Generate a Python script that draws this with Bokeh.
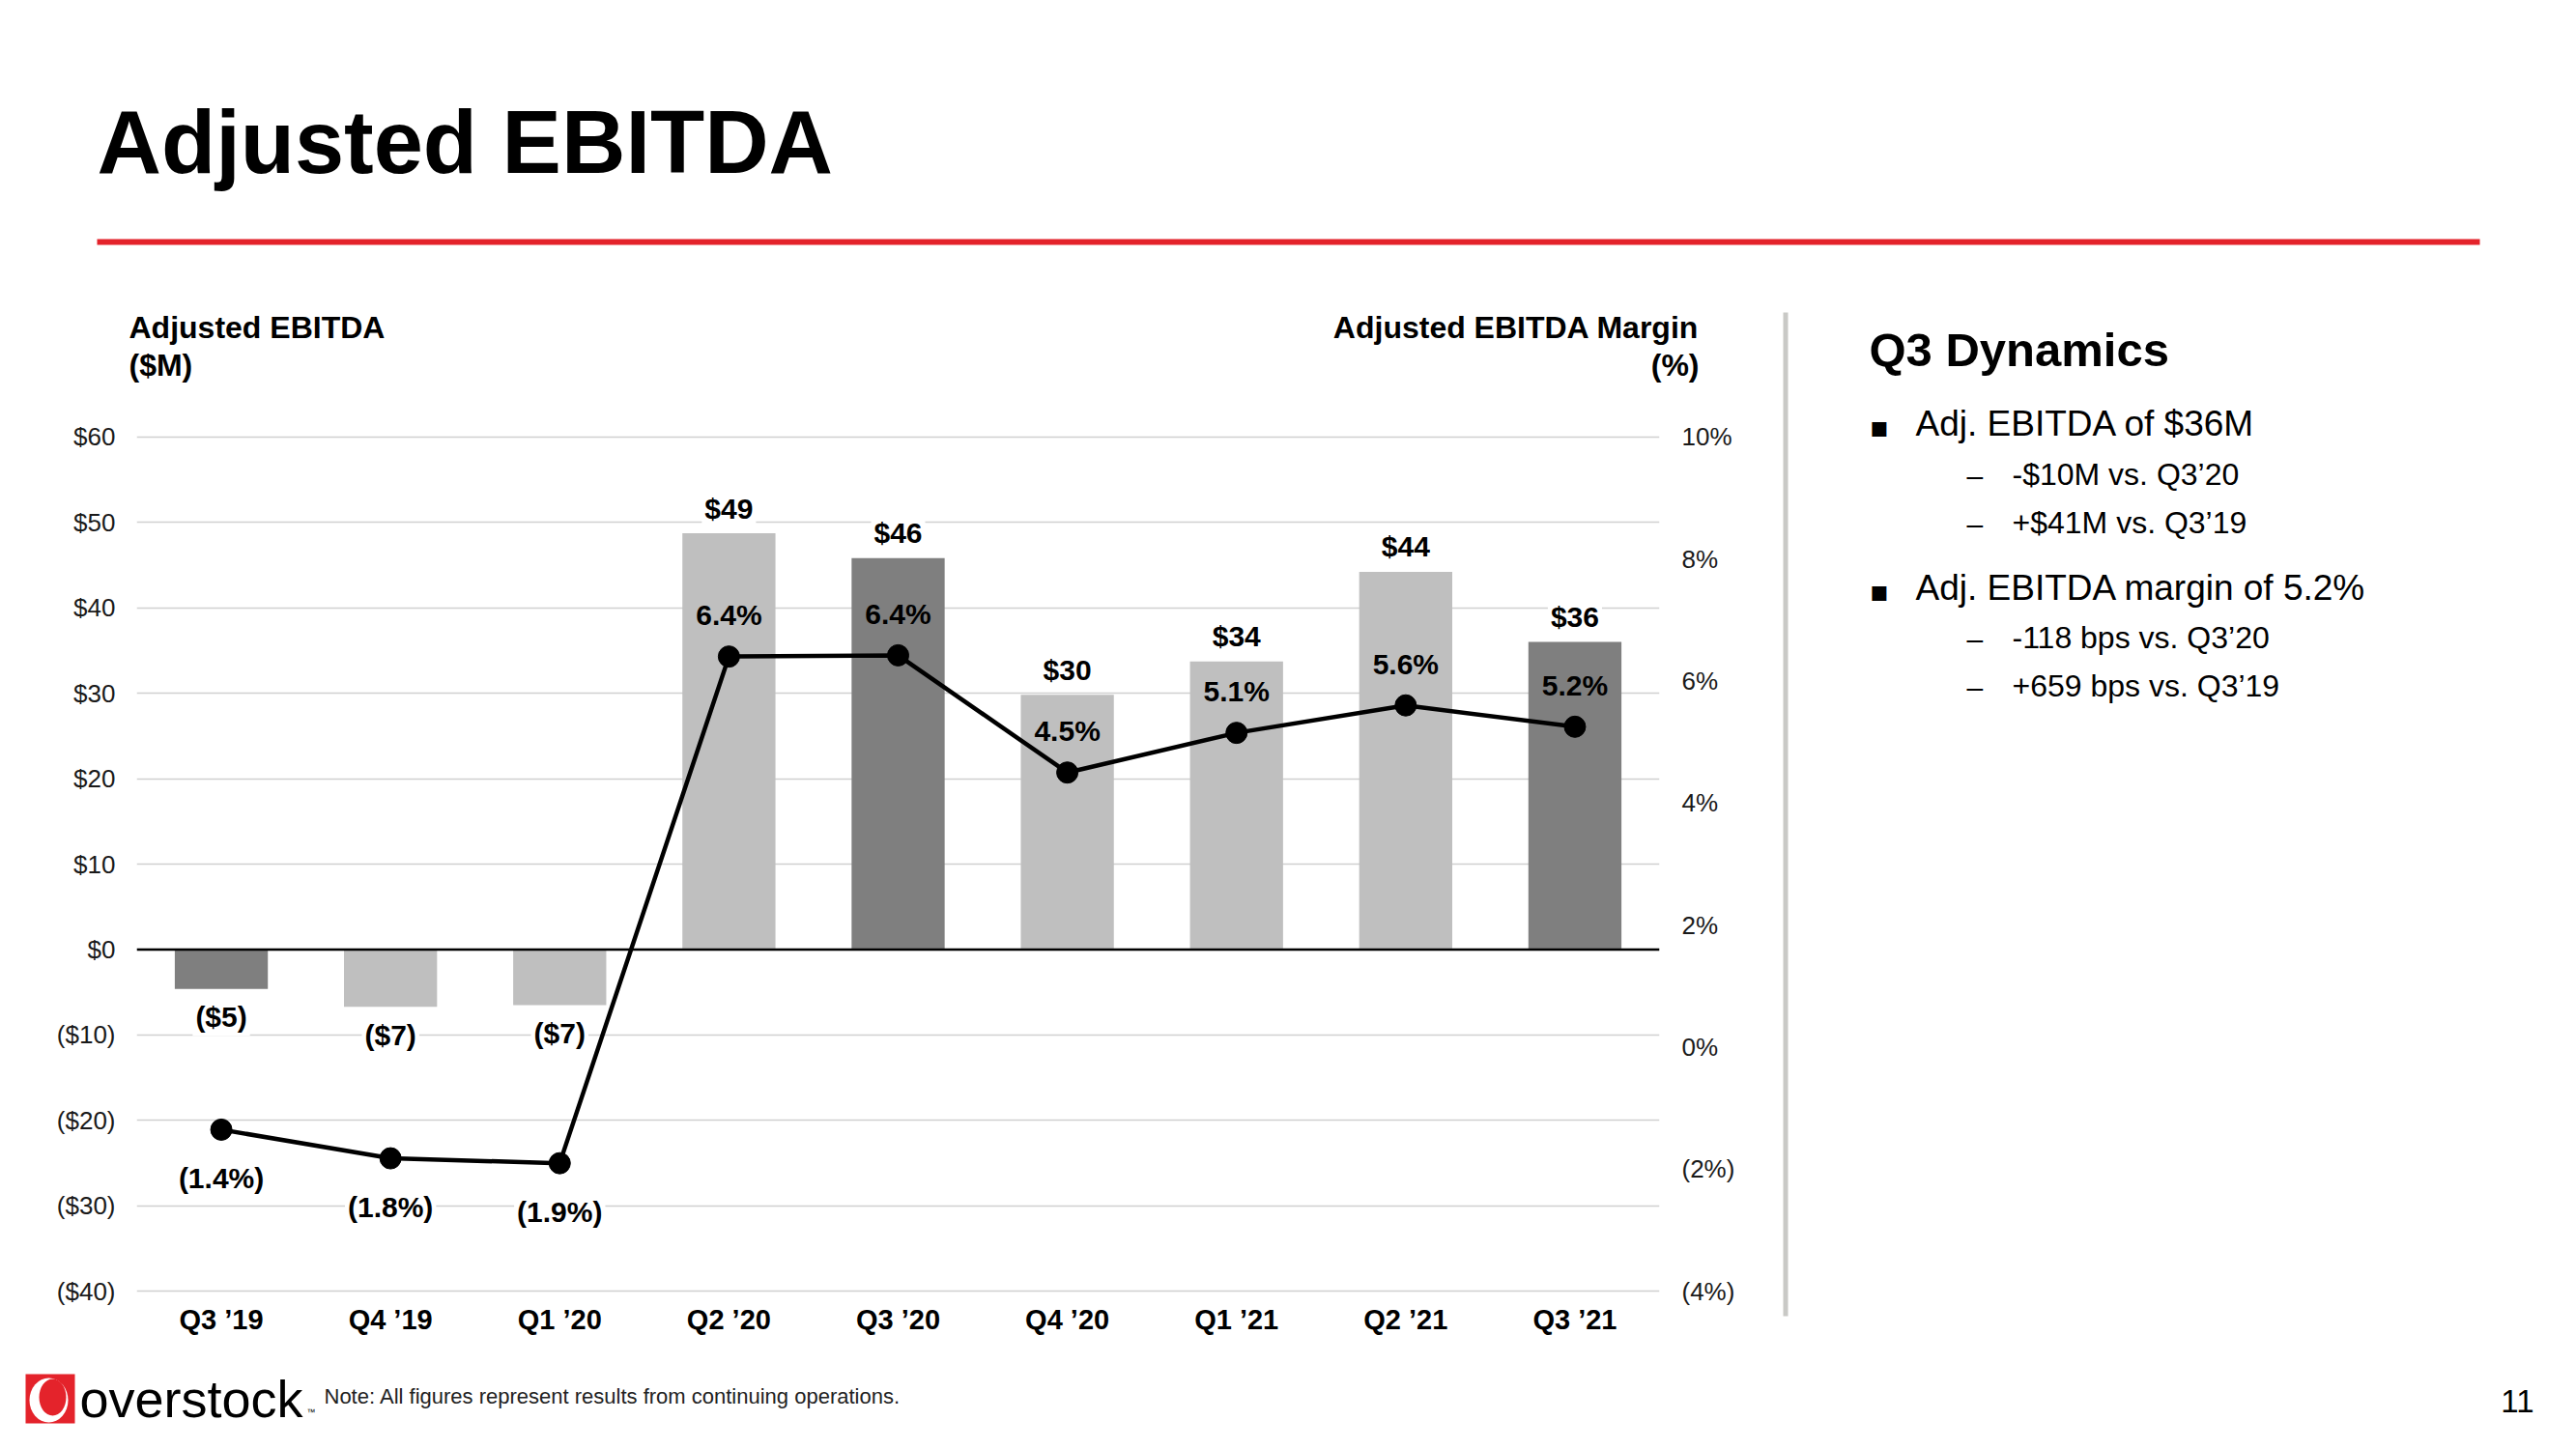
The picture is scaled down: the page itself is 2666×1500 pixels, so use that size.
from bokeh.plotting import figure
from bokeh.models import Range1d, LinearAxis, FixedTicker, FactorRange, Span
from bokeh.layouts import row, column
from bokeh.core.properties import value
from bokeh.embed import file_html
from bokeh.resources import INLINE

# ---------------- data ----------------
quarters = ["Q3 ’19", "Q4 ’19", "Q1 ’20", "Q2 ’20", "Q3 ’20", "Q4 ’20", "Q1 ’21", "Q2 ’21", "Q3 ’21"]
ebitda = [-4.6, -6.7, -6.5, 48.7, 45.8, 29.8, 33.7, 44.2, 36.0]
ebitda_labels = ["($5)", "($7)", "($7)", "$49", "$46", "$30", "$34", "$44", "$36"]
margin = [-1.35, -1.82, -1.9, 6.4, 6.42, 4.5, 5.15, 5.6, 5.25]
margin_labels = ["(1.4%)", "(1.8%)", "(1.9%)", "6.4%", "6.4%", "4.5%", "5.1%", "5.6%", "5.2%"]
left_ticks = [-40, -30, -20, -10, 0, 10, 20, 30, 40, 50, 60]
left_tick_labels = ["($40)", "($30)", "($20)", "($10)", "$0", "$10", "$20", "$30", "$40", "$50", "$60"]
right_ticks = [-4, -2, 0, 2, 4, 6, 8, 10]
right_tick_labels = ["(4%)", "(2%)", "0%", "2%", "4%", "6%", "8%", "10%"]

page_title = "Adjusted EBITDA"
left_title = ["Adjusted EBITDA", "($M)"]
right_title = ["Adjusted EBITDA Margin", "(%)"]
notes_title = "Q3 Dynamics"
bullets = ["Adj. EBITDA of $36M", "Adj. EBITDA margin of 5.2%"]
sub_bullets = [["-$10M vs. Q3’20", "+$41M vs. Q3’19"],
               ["-118 bps vs. Q3’20", "+659 bps vs. Q3’19"]]
footnote = "Note: All figures represent results from continuing operations."
brand = "overstock"
page_number = "11"

# ---------------- style ----------------
FONT = "Liberation Sans"
RED = "#E4232B"
DARK = "#7F7F7F"
LIGHT = "#BFBFBF"
GRID = "#D0D0D0"
DIVIDER = "#C9C9C6"

TOTAL_W, TOTAL_H = 2650, 1484
LEFT_W = 1800
TOP_H = 300          # title band
SUB_H = 120          # chart titles band
CHART_H = 990
FOOT_H = TOTAL_H - TOP_H - SUB_H - CHART_H
SIDE_W = TOTAL_W - LEFT_W
PAD = 0.3            # small range pad so edge gridlines are not clipped
PX_PER_UNIT = 8.84
FRAME_TOP = 452 - round(PAD * PX_PER_UNIT)
FRAME_LEFT = 141
FRAME_W = 1576
FRAME_H = 884 + 2 * round(PAD * PX_PER_UNIT)
Y_MIN, Y_MAX = left_ticks[0], left_ticks[-1]
P_MIN, P_MAX = right_ticks[0], right_ticks[-1]
pad_frac = PAD / (Y_MAX - Y_MIN)


def deco(x0, y0, w, h):
    f = figure(width=w, height=h, x_range=Range1d(x0, x0 + w), y_range=Range1d(y0 + h, y0),
               min_border_left=0, min_border_right=0, min_border_top=0, min_border_bottom=0,
               x_axis_location=None, y_axis_location=None,
               output_backend="svg", toolbar_location=None,
               background_fill_color="white", border_fill_color="white")
    f.xgrid.visible = False
    f.ygrid.visible = False
    f.outline_line_color = None
    return f


def txt(f, text, X, base, size, bold=False, align="left", color="black", font=FONT):
    # placed by baseline: the middle of the em box sits ~0.35em above it
    f.text(x=[X], y=[base - 0.35 * size], text=[text], text_font=value(font),
           text_font_size=f"{size}px", text_font_style="bold" if bold else "normal",
           text_align=align, text_baseline="middle", text_color=color)


# ---------------- chart ----------------
chart_y0 = TOP_H + SUB_H
p = figure(x_range=FactorRange(*quarters), y_range=Range1d(Y_MIN - PAD, Y_MAX + PAD),
           frame_width=FRAME_W, frame_height=FRAME_H,
           min_border_left=FRAME_LEFT, min_border_top=FRAME_TOP - chart_y0,
           min_border_right=LEFT_W - FRAME_LEFT - FRAME_W,
           min_border_bottom=CHART_H - FRAME_H - (FRAME_TOP - chart_y0),
           output_backend="svg", toolbar_location=None,
           background_fill_color="white", border_fill_color="white")
p.outline_line_color = None

p.xaxis.axis_line_color = None
p.xaxis.major_tick_line_color = None
p.xaxis.minor_tick_line_color = None
p.xaxis.major_label_text_font = FONT
p.xaxis.major_label_text_font_style = "bold"
p.xaxis.major_label_text_font_size = "29px"
p.xaxis.major_label_text_color = "black"
p.xaxis.major_label_standoff = 4

p.yaxis.ticker = FixedTicker(ticks=left_ticks)
p.yaxis.major_label_overrides = dict(zip(left_ticks, left_tick_labels))
p.yaxis.axis_line_color = None
p.yaxis.major_tick_line_color = None
p.yaxis.minor_tick_line_color = None
p.yaxis.major_label_text_font = FONT
p.yaxis.major_label_text_font_size = "26px"
p.yaxis.major_label_text_color = "#1a1a1a"
p.yaxis.major_label_standoff = 16

pspan = P_MAX - P_MIN
p.extra_y_ranges = {"pct": Range1d(P_MIN - pad_frac * pspan, P_MAX + pad_frac * pspan)}
rax = LinearAxis(y_range_name="pct", ticker=FixedTicker(ticks=right_ticks),
                 major_label_overrides=dict(zip(right_ticks, right_tick_labels)))
rax.axis_line_color = None
rax.major_tick_line_color = None
rax.minor_tick_line_color = None
rax.major_label_text_font = FONT
rax.major_label_text_font_size = "26px"
rax.major_label_text_color = "#1a1a1a"
rax.major_label_standoff = 17
p.add_layout(rax, "right")

p.xgrid.grid_line_color = None
p.ygrid.ticker = FixedTicker(ticks=left_ticks)
p.ygrid.grid_line_color = GRID
p.ygrid.grid_line_width = 1.5

bar_colors = [DARK if q.startswith("Q3") else LIGHT for q in quarters]
p.vbar(x=quarters, top=ebitda, bottom=0, width=0.55, color=bar_colors, line_color=None)
p.add_layout(Span(location=0, dimension="width", line_color="black", line_width=2.5))

p.line(x=quarters, y=margin, y_range_name="pct", line_color="black", line_width=4.5)
p.scatter(x=quarters, y=margin, y_range_name="pct", size=22, fill_color="black", line_color="black")

bar_off = [-26 if v > 0 else 29 for v in ebitda]
p.text(x=quarters, y=ebitda, text=ebitda_labels, y_offset=bar_off,
       text_align="center", text_baseline="alphabetic",
       text_font=value(FONT), text_font_style="bold", text_font_size="30px",
       text_color="black", background_fill_color="white", padding=3)

pos = [i for i, m in enumerate(margin) if m > 0]
neg = [i for i, m in enumerate(margin) if m <= 0]
p.text(x=[quarters[i] for i in pos], y=[margin[i] for i in pos],
       text=[margin_labels[i] for i in pos], y_offset=-43, y_range_name="pct",
       text_align="center", text_baseline="alphabetic",
       text_font=value(FONT), text_font_style="bold", text_font_size="30px", text_color="black")
p.text(x=[quarters[i] for i in neg], y=[margin[i] for i in neg],
       text=[margin_labels[i] for i in neg], y_offset=50, y_range_name="pct",
       text_align="center", text_baseline="alphabetic",
       text_font=value(FONT), text_font_style="bold", text_font_size="30px", text_color="black",
       background_fill_color="white", padding=3)

# ---------------- title band (full width) ----------------
top = deco(0, 0, TOTAL_W, TOP_H)
txt(top, page_title, 100, 179, 92, bold=True)
top.quad(left=[100], right=[2566], top=[247], bottom=[253], color=RED, line_color=None)

# ---------------- chart titles ----------------
sub = deco(0, TOP_H, LEFT_W, SUB_H)
txt(sub, left_title[0], 133, 350, 32, bold=True)
txt(sub, left_title[1], 133, 389, 32, bold=True)
txt(sub, right_title[0], 1758, 350, 32, bold=True, align="right")
txt(sub, right_title[1], 1758, 389, 32, bold=True, align="right")

# ---------------- side panel ----------------
side = deco(LEFT_W, TOP_H, SIDE_W, SUB_H + CHART_H)
side.quad(left=[1845], right=[1850], top=[323], bottom=[1362], color=DIVIDER, line_color=None)
txt(side, notes_title, 1934, 379, 49, bold=True)
b_base = [451, 621]
s_base = [[502, 552], [671, 721]]
for i, b in enumerate(bullets):
    txt(side, "▪", 1934, b_base[i], 30, font="DejaVu Sans")
    txt(side, b, 1982, b_base[i], 37)
    for j, s in enumerate(sub_bullets[i]):
        txt(side, "–", 2035, s_base[i][j], 30)
        txt(side, s, 2082, s_base[i][j], 32)

# ---------------- footer (full width) ----------------
foot_y0 = TOP_H + SUB_H + CHART_H
foot = deco(0, foot_y0, TOTAL_W, FOOT_H)
foot.quad(left=[26], right=[77], top=[1422], bottom=[1473], color=RED, line_color=None)
foot.ellipse(x=[50], y=[1449], width=[40], height=[46], color="white", line_color=None)
foot.ellipse(x=[54], y=[1446], width=[28], height=[38], color=RED, line_color=None)
txt(foot, brand, 82, 1466, 54)
txt(foot, "™", 317, 1465, 9)
txt(foot, footnote, 335, 1453, 22, color="#222222")
txt(foot, page_number, 2622, 1462, 33, align="right")

layout = column(top,
                row(column(row(sub), row(p)), column(side)),
                foot)
open("out.html", "w").write(file_html(layout, INLINE))
